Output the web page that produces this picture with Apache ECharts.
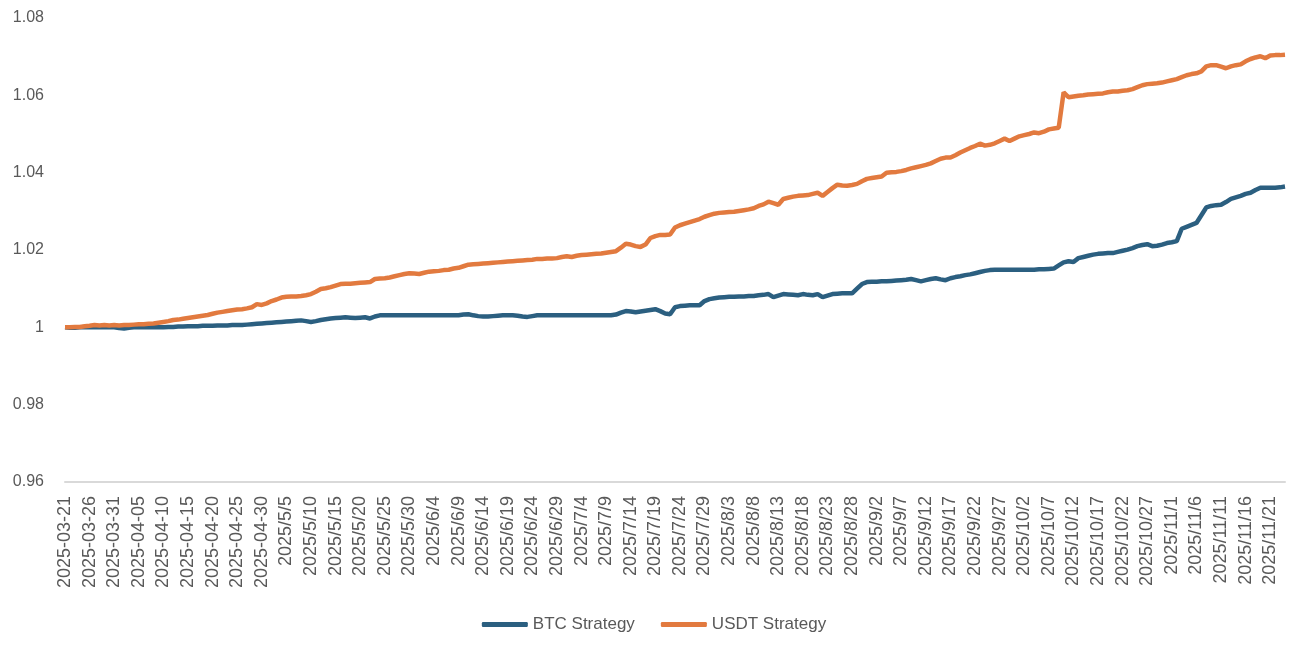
<!DOCTYPE html>
<html>
<head>
<meta charset="utf-8">
<title>BTC / USDT Strategy</title>
<script src="https://cdn.jsdelivr.net/npm/echarts@6/dist/echarts.min.js"></script>
<style>
  html, body { margin: 0; padding: 0; background: #fff; }
  #chart { width: 1308px; height: 654px; }
</style>
</head>
<body>
<div id="chart"></div>
<script>
// 日期类别：2025-03-21 ~ 2025-11-24（四月底之前是 2025-03-21 格式，之后是 2025/5/5 格式）
const startDate = '2025-03-21';
const dayCount = 249;

// 图例名称
const seriesNames = ['BTC Strategy', 'USDT Strategy'];

// BTC Strategy 净值
const btcValues = [
  1.0000, 0.9999, 0.9999, 1.0000, 1.0000, 1.0000, 1.0000, 1.0000, 1.0000, 1.0000,
  1.0000, 0.9998, 0.9997, 0.9999, 1.0000, 1.0000, 1.0000, 1.0000, 1.0000, 1.0000,
  1.0000, 1.0001, 1.0001, 1.0002, 1.0002, 1.0003, 1.0003, 1.0003, 1.0004, 1.0004,
  1.0004, 1.0005, 1.0005, 1.0005, 1.0006, 1.0006, 1.0006, 1.0007, 1.0008, 1.0009,
  1.0010, 1.0011, 1.0012, 1.0013, 1.0014, 1.0015, 1.0016, 1.0017, 1.0018, 1.0016,
  1.0014, 1.0016, 1.0019, 1.0021, 1.0023, 1.0024, 1.0025, 1.0026, 1.0025, 1.0024,
  1.0025, 1.0026, 1.0023, 1.0028, 1.0031, 1.0031, 1.0031, 1.0031, 1.0031, 1.0031,
  1.0031, 1.0031, 1.0031, 1.0031, 1.0031, 1.0031, 1.0031, 1.0031, 1.0031, 1.0031,
  1.0031, 1.0033, 1.0034, 1.0031, 1.0029, 1.0028, 1.0028, 1.0029, 1.0030, 1.0031,
  1.0031, 1.0031, 1.0030, 1.0028, 1.0027, 1.0029, 1.0031, 1.0031, 1.0031, 1.0031,
  1.0031, 1.0031, 1.0031, 1.0031, 1.0031, 1.0031, 1.0031, 1.0031, 1.0031, 1.0031,
  1.0031, 1.0031, 1.0033, 1.0038, 1.0042, 1.0041, 1.0039, 1.0041, 1.0043, 1.0045,
  1.0047, 1.0042, 1.0036, 1.0034, 1.0052, 1.0055, 1.0056, 1.0057, 1.0057, 1.0057,
  1.0068, 1.0073, 1.0075, 1.0077, 1.0078, 1.0079, 1.0079, 1.0080, 1.0080, 1.0081,
  1.0081, 1.0083, 1.0084, 1.0086, 1.0078, 1.0082, 1.0086, 1.0085, 1.0084, 1.0083,
  1.0086, 1.0084, 1.0083, 1.0086, 1.0078, 1.0082, 1.0086, 1.0087, 1.0088, 1.0088,
  1.0088, 1.0100, 1.0112, 1.0117, 1.0118, 1.0118, 1.0119, 1.0119, 1.0120, 1.0121,
  1.0122, 1.0123, 1.0125, 1.0122, 1.0119, 1.0122, 1.0125, 1.0127, 1.0124, 1.0122,
  1.0127, 1.0130, 1.0132, 1.0135, 1.0137, 1.0140, 1.0143, 1.0146, 1.0148, 1.0149,
  1.0149, 1.0149, 1.0149, 1.0149, 1.0149, 1.0149, 1.0149, 1.0149, 1.0150, 1.0150,
  1.0151, 1.0152, 1.0160, 1.0168, 1.0171, 1.0169, 1.0179, 1.0182, 1.0185, 1.0188,
  1.0190, 1.0191, 1.0192, 1.0192, 1.0195, 1.0198, 1.0201, 1.0205, 1.0210, 1.0213,
  1.0215, 1.0210, 1.0211, 1.0214, 1.0218, 1.0220, 1.0223, 1.0255, 1.0260, 1.0265,
  1.0270, 1.0290, 1.0310, 1.0314, 1.0316, 1.0317, 1.0324, 1.0332, 1.0336, 1.0340,
  1.0345, 1.0348, 1.0355, 1.0361, 1.0361, 1.0361, 1.0361, 1.0362, 1.0364
];

// USDT Strategy 净值
const usdtValues = [
  1.0000, 1.0000, 1.0001, 1.0001, 1.0003, 1.0004, 1.0006, 1.0005, 1.0006, 1.0005,
  1.0006, 1.0005, 1.0006, 1.0006, 1.0007, 1.0008, 1.0008, 1.0009, 1.0010, 1.0012,
  1.0014, 1.0016, 1.0019, 1.0020, 1.0022, 1.0024, 1.0026, 1.0028, 1.0030, 1.0032,
  1.0035, 1.0038, 1.0040, 1.0042, 1.0044, 1.0046, 1.0047, 1.0049, 1.0052, 1.0060,
  1.0058, 1.0062, 1.0068, 1.0072, 1.0077, 1.0079, 1.0080, 1.0080, 1.0081, 1.0083,
  1.0086, 1.0092, 1.0099, 1.0101, 1.0104, 1.0108, 1.0112, 1.0113, 1.0113, 1.0114,
  1.0115, 1.0116, 1.0117, 1.0125, 1.0126, 1.0127, 1.0129, 1.0132, 1.0135, 1.0138,
  1.0140, 1.0139, 1.0138, 1.0141, 1.0144, 1.0145, 1.0146, 1.0148, 1.0149, 1.0152,
  1.0154, 1.0158, 1.0162, 1.0163, 1.0164, 1.0165, 1.0166, 1.0167, 1.0168, 1.0169,
  1.0170, 1.0171, 1.0172, 1.0173, 1.0174, 1.0175, 1.0177, 1.0177, 1.0178, 1.0178,
  1.0179, 1.0182, 1.0184, 1.0182, 1.0185, 1.0187, 1.0188, 1.0189, 1.0190, 1.0191,
  1.0193, 1.0195, 1.0197, 1.0206, 1.0216, 1.0214, 1.0210, 1.0208, 1.0214, 1.0231,
  1.0236, 1.0239, 1.0239, 1.0240, 1.0258, 1.0264, 1.0268, 1.0272, 1.0276, 1.0280,
  1.0286, 1.0290, 1.0294, 1.0296, 1.0297, 1.0298, 1.0299, 1.0301, 1.0303, 1.0305,
  1.0308, 1.0314, 1.0318, 1.0325, 1.0321, 1.0317, 1.0332, 1.0335, 1.0338, 1.0340,
  1.0341, 1.0342, 1.0345, 1.0348, 1.0340, 1.0350, 1.0360, 1.0369, 1.0367, 1.0366,
  1.0368, 1.0371, 1.0378, 1.0384, 1.0386, 1.0388, 1.0390, 1.0400, 1.0401, 1.0402,
  1.0404, 1.0407, 1.0411, 1.0414, 1.0417, 1.0420, 1.0424, 1.0430, 1.0436, 1.0439,
  1.0439, 1.0445, 1.0452, 1.0458, 1.0464, 1.0469, 1.0475, 1.0470, 1.0472, 1.0476,
  1.0482, 1.0488, 1.0482, 1.0488, 1.0494, 1.0497, 1.0500, 1.0504, 1.0502, 1.0506,
  1.0512, 1.0514, 1.0516, 1.0608, 1.0595, 1.0597, 1.0599, 1.0600, 1.0602, 1.0603,
  1.0604, 1.0605, 1.0608, 1.0610, 1.0610, 1.0612, 1.0613, 1.0616, 1.0621, 1.0626,
  1.0629, 1.0630, 1.0631, 1.0633, 1.0636, 1.0639, 1.0642, 1.0647, 1.0652, 1.0655,
  1.0657, 1.0662, 1.0675, 1.0678, 1.0678, 1.0674, 1.0670, 1.0675, 1.0678, 1.0680,
  1.0688, 1.0694, 1.0698, 1.0701, 1.0696, 1.0703, 1.0704, 1.0704, 1.0705
];

// 生成日期标签
const buildDates = () => {
  const dates = [];
  const d = new Date(startDate + 'T00:00:00Z');
  for (let i = 0; i < dayCount; i++) {
    const y = d.getUTCFullYear();
    const m = d.getUTCMonth() + 1;
    const day = d.getUTCDate();
    if (m < 5) {
      dates.push(y + '-' + String(m).padStart(2, '0') + '-' + String(day).padStart(2, '0'));
    } else {
      dates.push(y + '/' + m + '/' + day);
    }
    d.setUTCDate(d.getUTCDate() + 1);
  }
  return dates;
};
const dates = buildDates();

const myChart = echarts.init(document.getElementById('chart'));

const textColor = '#595959';
const fontFamily = 'Liberation Sans, Arial, sans-serif';

const options = {
  animation: false,
  color: ['#2B5F80', '#E27A3F'],
  grid: {
    left: 65,
    right: 23,
    top: 18,
    bottom: 172
  },
  legend: {
    top: 611,
    left: 'center',
    icon: 'roundRect',
    itemWidth: 46,
    itemHeight: 5,
    itemGap: 26,
    textStyle: { color: textColor, fontSize: 17, fontFamily: fontFamily },
    data: seriesNames
  },
  xAxis: {
    type: 'category',
    boundaryGap: false,
    data: dates,
    axisLine: { lineStyle: { color: '#D9D9D9', width: 2 } },
    axisTick: { show: false },
    axisLabel: {
      interval: 4,
      rotate: 90,
      margin: 14,
      color: textColor,
      fontSize: 18,
      fontFamily: fontFamily
    }
  },
  yAxis: {
    type: 'value',
    min: 0.96,
    max: 1.08,
    interval: 0.02,
    axisLine: { show: false },
    axisTick: { show: false },
    splitLine: { show: false },
    axisLabel: {
      margin: 21,
      color: textColor,
      fontSize: 16,
      fontFamily: fontFamily,
      formatter: (v) => String(+v.toFixed(2))
    }
  },
  series: [
    {
      name: seriesNames[0],
      type: 'line',
      data: btcValues,
      showSymbol: false,
      symbol: 'none',
      lineStyle: { width: 4.5 }
    },
    {
      name: seriesNames[1],
      type: 'line',
      data: usdtValues,
      showSymbol: false,
      symbol: 'none',
      lineStyle: { width: 4.5 }
    }
  ]
};

myChart.setOption(options);
</script>
</body>
</html>
